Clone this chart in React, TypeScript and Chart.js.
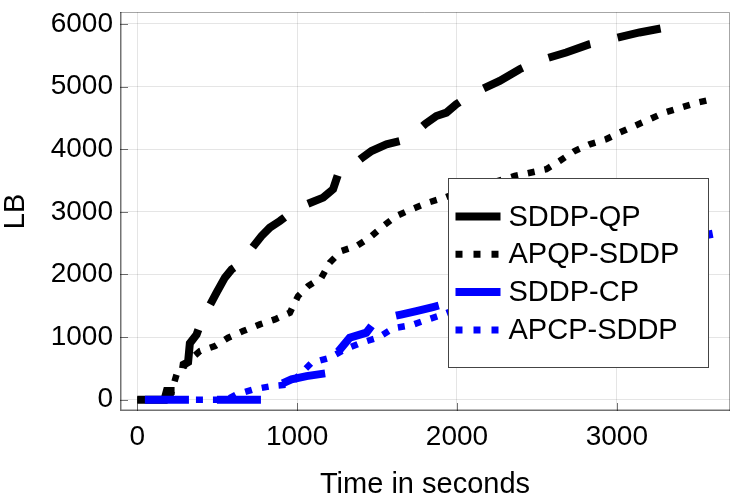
import { useEffect, useRef } from "react"
import { Chart, registerables } from "chart.js"
import type { Plugin } from "chart.js"

Chart.register(...registerables)

// SDDP-QP
const qpTime = [0, 170, 185, 265, 290, 318, 329, 371, 402, 496, 548, 590, 621, 662, 777, 829, 892, 934, 965, 1060, 1163, 1225, 1256, 1319, 1400, 1465, 1559, 1642, 1725, 1800, 1871, 1934, 1996, 2090, 2267, 2392, 2507, 2683, 2830, 2965, 3142, 3300, 3433]
const qpLB = [0, 0, 140, 140, 560, 600, 900, 1040, 1260, 1709, 1949, 2081, 2134, 2241, 2613, 2748, 2853, 2933, 3040, 3120, 3227, 3360, 3600, 3680, 3850, 3971, 4078, 4131, 4238, 4400, 4530, 4584, 4717, 4877, 5090, 5277, 5409, 5543, 5676, 5756, 5863, 5940, 5995]

// APQP-SDDP
const apqpTime = [0, 200, 246, 309, 392, 486, 569, 662, 767, 861, 955, 1006, 1069, 1152, 1204, 1277, 1371, 1454, 1538, 1621, 1715, 1819, 1923, 2050, 2200, 2361, 2559, 2642, 2736, 2830, 2933, 3017, 3111, 3205, 3298, 3402, 3506, 3600]
const apqpLB = [0, 0, 404, 591, 776, 856, 990, 1096, 1203, 1283, 1390, 1655, 1815, 1949, 2188, 2374, 2454, 2588, 2773, 2933, 3040, 3147, 3227, 3350, 3450, 3572, 3679, 3812, 3971, 4078, 4158, 4265, 4371, 4478, 4585, 4665, 4744, 4797]

// SDDP-CP
const cpTime = [48, 340, 496, 780, 819, 900, 965, 1059, 1204, 1225, 1329, 1433, 1496, 1559, 1650, 1746, 1850, 1954, 2200, 2500, 2800, 3100, 3400, 3600]
const cpLB = [0, 0, 0, 0, 30, 250, 324, 377, 431, 670, 990, 1070, 1283, 1310, 1360, 1416, 1480, 1550, 1800, 2050, 2250, 2400, 2550, 2650]

// APCP-SDDP
const apcpTime = [48, 560, 621, 725, 840, 955, 1090, 1204, 1298, 1402, 1506, 1600, 1715, 1819, 1923, 2100, 2400, 2700, 3000, 3300, 3500]
const apcpLB = [0, 0, 85, 165, 218, 245, 590, 670, 803, 910, 990, 1140, 1190, 1283, 1370, 1550, 1800, 2000, 2200, 2350, 2450]

const xTicks = [0, 1000, 2000, 3000]
const yTicks = [0, 1000, 2000, 3000, 4000, 5000, 6000]
const seriesNames = ["SDDP-QP", "APQP-SDDP", "SDDP-CP", "APCP-SDDP"]

const FONT = "'Liberation Sans', Arial, Helvetica, sans-serif"
const DASHED = [44, 28]
const DOTTED = [7, 10]
const BLUE = "#0000ff"

const toPoints = (xs: number[], ys: number[]) => xs.map((x, i) => ({ x, y: ys[i] }))

// frame around the plot with inward tick marks
const framePlugin: Plugin<"line"> = {
  id: "frame",
  afterDatasetsDraw(chart) {
    const { ctx, chartArea } = chart
    const { left, right, top, bottom } = chartArea
    const xs = chart.scales.x
    const ys = chart.scales.y
    ctx.save()
    ctx.strokeStyle = "rgba(0,0,0,0.35)"
    ctx.lineWidth = 1
    ctx.beginPath()
    ctx.moveTo(left, top + 0.5)
    ctx.lineTo(right - 0.5, top + 0.5)
    ctx.lineTo(right - 0.5, bottom)
    ctx.stroke()
    ctx.strokeStyle = "rgba(0,0,0,0.55)"
    ctx.lineWidth = 1.5
    ctx.beginPath()
    ctx.moveTo(left + 0.75, top)
    ctx.lineTo(left + 0.75, bottom - 0.75)
    ctx.lineTo(right, bottom - 0.75)
    ctx.stroke()
    ctx.lineWidth = 1
    ctx.beginPath()
    xTicks.forEach((v) => {
      const px = Math.round(xs.getPixelForValue(v)) + 0.5
      ctx.moveTo(px, bottom)
      ctx.lineTo(px, bottom - 8)
    })
    yTicks.forEach((v) => {
      const py = Math.round(ys.getPixelForValue(v)) + 0.5
      ctx.moveTo(left, py)
      ctx.lineTo(left + 8, py)
    })
    ctx.stroke()
    ctx.restore()
  },
}

// boxed legend inside the plot
const legendPlugin: Plugin<"line"> = {
  id: "boxLegend",
  afterDraw(chart) {
    const { ctx, chartArea } = chart
    const w = 260
    const h = 189
    const x0 = Math.round(chartArea.right - 22 - w) + 0.5
    const y0 = Math.round(chartArea.top + 166) + 0.5
    ctx.save()
    ctx.fillStyle = "#ffffff"
    ctx.fillRect(x0, y0, w, h)
    ctx.strokeStyle = "#444"
    ctx.lineWidth = 1
    ctx.strokeRect(x0, y0, w, h)
    ctx.font = `29px ${FONT}`
    ctx.textBaseline = "middle"
    ctx.textAlign = "left"
    chart.data.datasets.forEach((ds: any, i: number) => {
      const y = y0 + 38 + i * 37.8
      const dotted = ds.borderDash === DOTTED
      ctx.strokeStyle = ds.borderColor
      ctx.lineWidth = dotted ? 7 : 8
      ctx.lineCap = "butt"
      ctx.setLineDash(dotted ? [7, 11] : [])
      ctx.beginPath()
      ctx.moveTo(x0 + 7, y)
      ctx.lineTo(x0 + 52, y)
      ctx.stroke()
      ctx.setLineDash([])
      ctx.fillStyle = "#000"
      ctx.fillText(seriesNames[i], x0 + 60, y + 1)
    })
    ctx.restore()
  },
}

export default function App() {
  const chartRef = useRef<HTMLCanvasElement>(null)
  const chartInstance = useRef<Chart | null>(null)

  useEffect(() => {
    if (!chartRef.current) return
    const ctx = chartRef.current.getContext("2d")
    if (!ctx) return

    const lineStyle = (color: string, dash: number[], width: number) => ({
      borderColor: color,
      backgroundColor: color,
      borderDash: dash,
      borderWidth: width,
      borderCapStyle: "butt" as const,
      borderJoinStyle: "miter" as const,
      pointRadius: 0,
      tension: 0,
      fill: false,
    })

    chartInstance.current = new Chart(ctx, {
      type: "line",
      data: {
        datasets: [
          { label: seriesNames[0], data: toPoints(qpTime, qpLB), order: 4, ...lineStyle("#000000", DASHED, 8) },
          { label: seriesNames[1], data: toPoints(apqpTime, apqpLB), order: 3, ...lineStyle("#000000", DOTTED, 6.5) },
          { label: seriesNames[2], data: toPoints(cpTime, cpLB), order: 2, ...lineStyle(BLUE, DASHED, 8) },
          { label: seriesNames[3], data: toPoints(apcpTime, apcpLB), order: 1, ...lineStyle(BLUE, DOTTED, 6.5) },
        ],
      },
      options: {
        animation: false,
        responsive: true,
        maintainAspectRatio: false,
        layout: { padding: { top: 12, right: 20, left: 0, bottom: 0 } },
        plugins: {
          legend: { display: false },
          tooltip: { enabled: false },
        },
        scales: {
          x: {
            type: "linear",
            min: -108,
            max: 3708,
            afterBuildTicks: (scale) => {
              scale.ticks = xTicks.map((value) => ({ value }))
            },
            afterFit: (scale: any) => {
              scale.height = 89
              scale.paddingLeft = 0
              scale.paddingRight = 0
            },
            grid: { color: "rgba(0,0,0,0.1)", drawTicks: false },
            border: { display: false },
            ticks: {
              color: "#000",
              font: { family: FONT, size: 28 },
              padding: 9,
              maxRotation: 0,
              callback: (v) => String(v),
            },
            title: {
              display: true,
              text: "Time in seconds",
              color: "#000",
              font: { family: FONT, size: 29, lineHeight: 1.03 },
              padding: 0,
            },
          },
          y: {
            type: "linear",
            min: -180,
            max: 6190,
            afterBuildTicks: (scale) => {
              scale.ticks = yTicks.map((value) => ({ value }))
            },
            afterFit: (scale: any) => {
              scale.width = 120
              scale.paddingTop = 0
              scale.paddingBottom = 0
            },
            grid: { color: "rgba(0,0,0,0.1)", drawTicks: false },
            border: { display: false },
            ticks: {
              color: "#000",
              font: { family: FONT, size: 28 },
              padding: 7,
              callback: (v) => String(v),
            },
            title: {
              display: true,
              text: "LB",
              color: "#000",
              font: { family: FONT, size: 29, lineHeight: 1.1 },
              padding: 0,
            },
          },
        },
      },
      plugins: [framePlugin, legendPlugin],
    })

    return () => {
      if (chartInstance.current) {
        chartInstance.current.destroy()
        chartInstance.current = null
      }
    }
  }, [])

  return (
    <div style={{ position: "absolute", left: 0, top: 0, width: 750, height: 500, background: "#fff" }}>
      <canvas ref={chartRef}></canvas>
    </div>
  )
}
